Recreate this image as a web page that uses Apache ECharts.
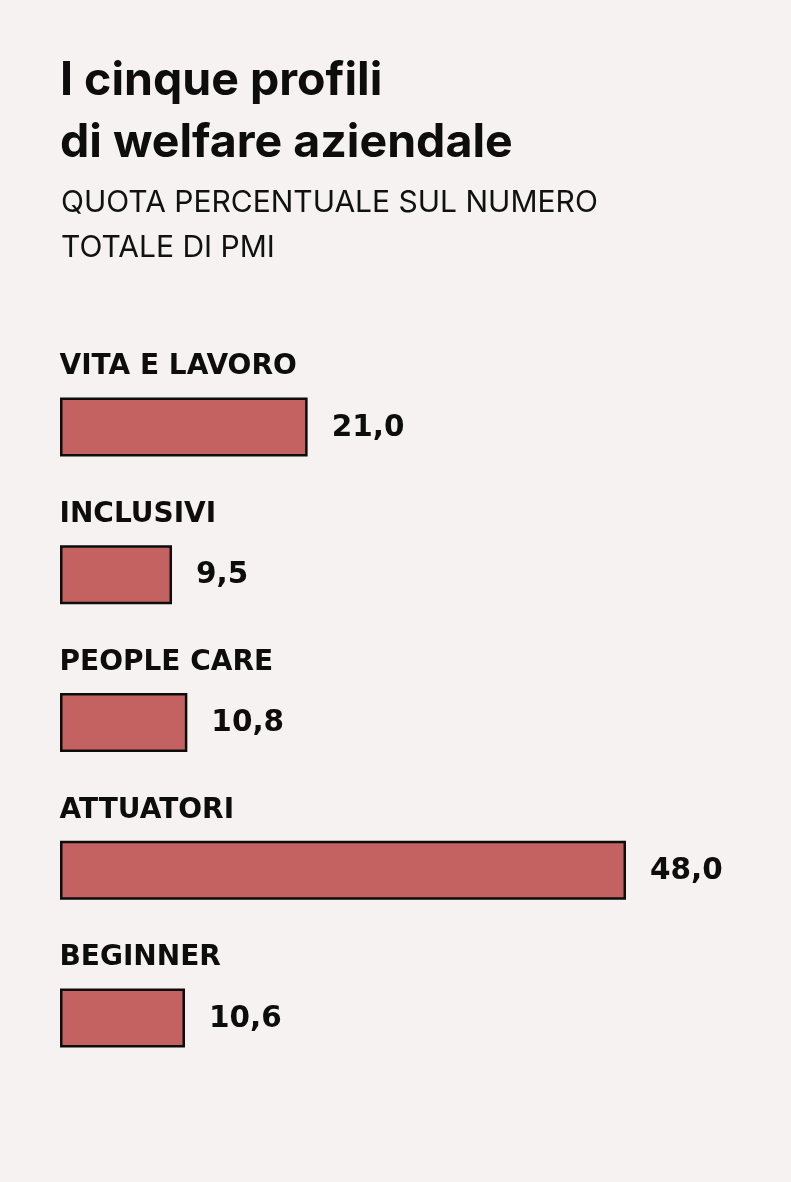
<!DOCTYPE html>
<html><head><meta charset="utf-8">
<script src="https://cdn.jsdelivr.net/npm/echarts@6/dist/echarts.min.js"></script>
<style>html,body{margin:0;padding:0;background:#f5f2f1;}#c{width:791px;height:1182px;}</style>
</head><body><div id="c"></div>
<script>
const categories = ["VITA E LAVORO", "INCLUSIVI", "PEOPLE CARE", "ATTUATORI", "BEGINNER"];
const values = [21.0, 9.5, 10.8, 48.0, 10.6];
const titleText = "I cinque profili\ndi welfare aziendale";
const subtitleText = "QUOTA PERCENTUALE SUL NUMERO\nTOTALE DI PMI";

const chart = echarts.init(document.getElementById('c'), null, {renderer: 'canvas'});
chart.setOption({
  backgroundColor: '#f5f2f1',
  animation: false,
  title: [
    {text: titleText, left: 55, top: 45,
     textStyle: {fontFamily: 'Inter', fontWeight: 'bold', fontSize: 46.5, lineHeight: 62, color: '#0d0d0d'}},
    {text: subtitleText, left: 56, top: 175,
     textStyle: {fontFamily: 'Inter', fontWeight: 'normal', fontSize: 30, lineHeight: 45, color: '#111'}}
  ],
  grid: {left: 60, width: 566, top: 353, height: 739, containLabel: false},
  xAxis: {type: 'value', min: 0, max: 48, show: false},
  yAxis: {
    type: 'category', data: categories, inverse: true, show: false
  },
  series: [{
    type: 'bar', data: values, barWidth: 59,
    itemStyle: {color: '#c46261', borderColor: '#0d0d0d', borderWidth: 2.5},
    label: {show: true, position: 'right', distance: 24, offset: [0, 1],
      formatter: p => p.value.toFixed(1).replace('.', ','),
      fontFamily: 'DejaVu Sans', fontWeight: 'bold', fontSize: 29.5, color: '#0d0d0d'}
  }, {
    type: 'scatter', data: categories.map(c => [0, c]), symbolSize: 1,
    itemStyle: {color: 'rgba(0,0,0,0)', opacity: 1}, silent: true,
    label: {show: true, position: 'right', distance: 0, offset: [-1, -60], align: 'left',
      opacity: 1,
      formatter: p => p.value[1],
      fontFamily: 'DejaVu Sans', fontWeight: 'bold', fontSize: 28, color: '#0d0d0d'}
  }]
});
</script></body></html>
